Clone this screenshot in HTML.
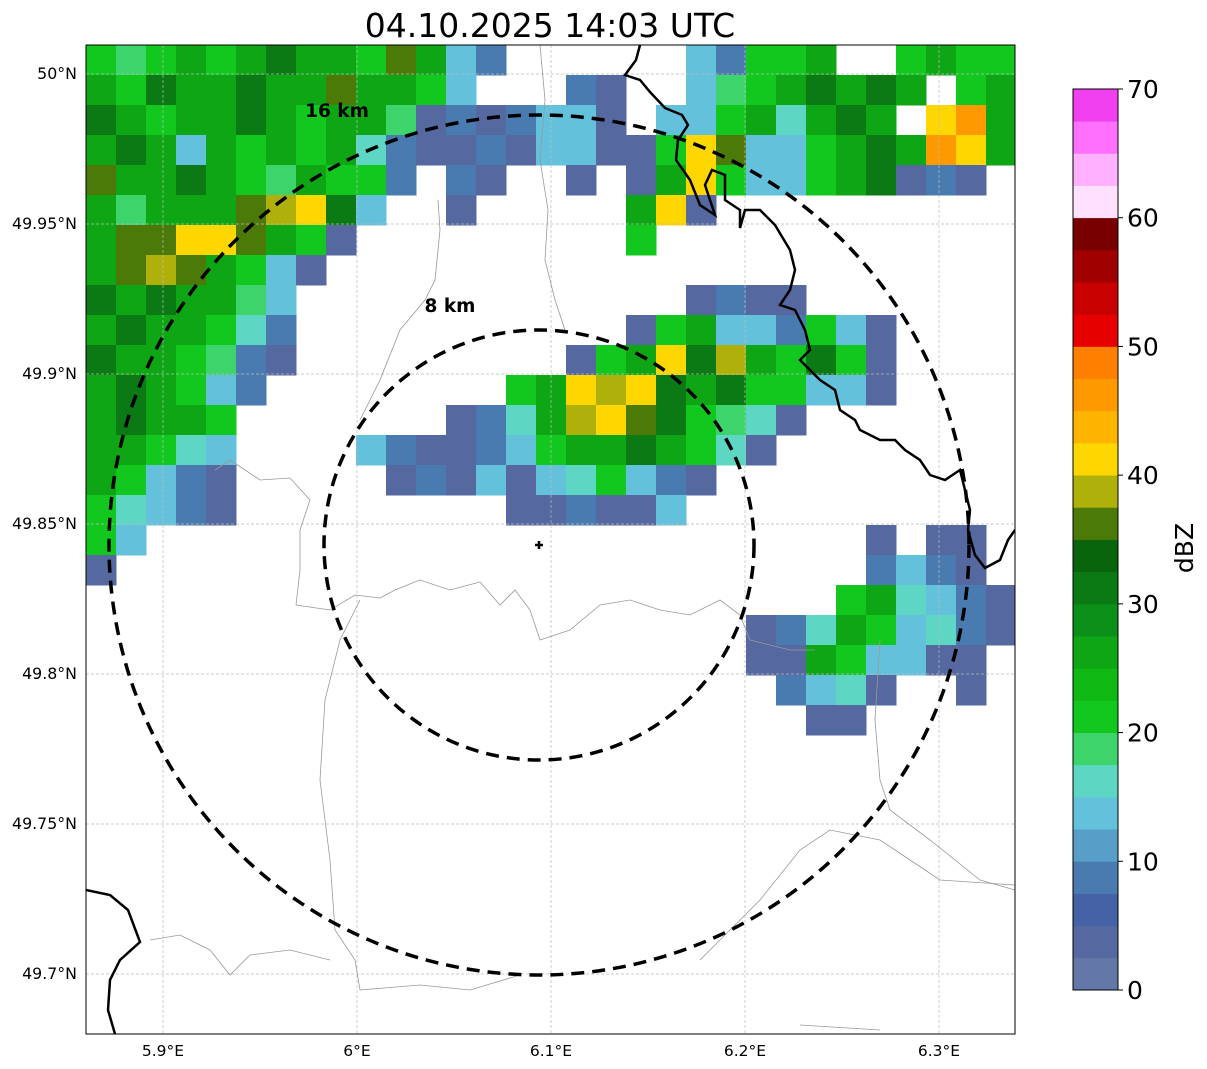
<!DOCTYPE html>
<html><head><meta charset="utf-8"><style>
body{margin:0;background:#fff;font-family:"DejaVu Sans","Liberation Sans",sans-serif}
svg{display:block;font-family:"DejaVu Sans","Liberation Sans",sans-serif}
</style></head><body>
<svg id="c" width="1207" height="1069" xmlns="http://www.w3.org/2000/svg"></svg>
<script>
const lonTicks=[5.9,6.0,6.1,6.2,6.3];
const lonLabels=["5.9°E","6°E","6.1°E","6.2°E","6.3°E"];
const latTicks=[50.0,49.95,49.9,49.85,49.8,49.75,49.7];
const latLabels=["50°N","49.95°N","49.9°N","49.85°N","49.8°N","49.75°N","49.7°N"];
const cbTicks=[0,10,20,30,40,50,60,70];
const cbColors=["#6478a8","#5568a0","#4562a6","#4a7bb0","#579fc8","#63c1dc","#5ed6c4","#3ed46c","#12c81e","#10b814","#0ea614","#0c8f18","#0b7914","#09650c","#4c7a08","#b0b00a","#ffd700","#ffb400","#ff9900","#ff7f00","#e60000","#c80000","#a00000","#780000","#ffe0ff","#ffb0ff","#ff70ff","#f040f0"];
const classCodes="bBctmgGdoyYO";
const classValues=[4,9,13,16,19,22,27,32,36,39,41,46];
const gridRows=[
"gmgGgGdGGgoGcB......cBggG..gGgg",
"GgdGGdGGoGGgc...Bb..cmgGdGdG.gG",
"dGgGGdGgGGmbBbBccb.ccgGtGdG.YOG",
"GdGcGgGgGtBbbBbccbbgYoccgGdGOYG",
"oGGdGgmGggB.Bb..b.bGYgccgGdbBb.",
"GmGGGoyYdc..b.....GYb..........",
"GooYYoGgb.........g............",
"GoyoGgcb.......................",
"dGdGGmc.............bBbb.......",
"GdGGgtB...........bgGccBgcb....",
"dGGgmBb.........bgGYdyGgdgb....",
"GdGgcB........gGYyYdGdggccb....",
"GdGGg.......bBtGyYodgmtb.......",
"GGgtc....cBbbBcgGGdGgtb........",
"GgcBb.....bBbcbctgcBb..........",
"gtcBb.........bbBbbc...........",
"gc........................b.bb.",
"b.........................BcBb.",
".........................gGtcBb",
"......................bBtGgctBb",
"......................bbGgccbb.",
".......................Bctb..b.",
"........................bb....."
];
const ns="http://www.w3.org/2000/svg";
const svg=document.getElementById('c');
function xOf(lon){return 163+(lon-5.9)*1940;}
function yOf(lat){return 74+(50-lat)*3000;}
function cbY(v){return 990-v*(901/70);}
function colorOf(v){return cbColors[Math.min(27,Math.floor(v/2.5))];}
function mk(t,a,p){const e=document.createElementNS(ns,t);for(const k in a)e.setAttribute(k,a[k]);(p||svg).appendChild(e);return e;}
const X0=86,Y0=45,X1=1015,Y1=1034,CELL=30;
const clip=mk('clipPath',{id:'mc'});mk('rect',{x:X0,y:Y0,width:X1-X0,height:Y1-Y0},clip);
const map=mk('g',{'clip-path':'url(#mc)'});


gridRows.forEach((row,j)=>{for(let i=0;i<row.length;i++){const k=classCodes.indexOf(row[i]);if(k<0)continue;
 const r=mk('rect',{x:X0+i*CELL,y:Y0+j*CELL,width:CELL+0.5,height:CELL+0.5,fill:colorOf(classValues[k])},map);
 
 }});
lonTicks.forEach(l=>{const e=mk('line',{x1:xOf(l),x2:xOf(l),y1:Y0,y2:Y1,stroke:'#bbb','stroke-width':0.7,'stroke-dasharray':'3,2'},map);});
latTicks.forEach(l=>{const e=mk('line',{x1:X0,x2:X1,y1:yOf(l),y2:yOf(l),stroke:'#bbb','stroke-width':0.7,'stroke-dasharray':'3,2'},map);});
const thin=["215,470 230,460 260,480 290,478 310,500 300,530 300,570 296,605 330,610 355,595 380,598 395,590 420,580 450,590 480,582 500,605 515,590 530,610 540,640 570,630 600,605 630,600 660,610 690,615 720,600 740,615 750,640 790,650 815,650",
"540,45 545,100 540,160 548,210 545,260 555,300 565,330",
"438,200 440,230 435,280 425,300 400,330 380,380 360,420",
"360,600 340,640 325,700 320,780 330,860 335,930 355,960 360,990 420,985 470,990 520,975",
"150,940 180,935 210,950 230,975 250,955 290,950 330,960",
"700,960 740,920 760,900 800,850 830,830 880,840 910,860 940,880 1015,885",
"800,1025 880,1030",
"880,640 875,720 880,780 890,810 930,840 980,880 1015,890"];
thin.forEach(p=>{const e=mk('polyline',{points:p,fill:'none',stroke:'#999','stroke-width':0.8},map);});
const thick=["640,45 636,60 625,75 640,80 650,92 665,108 682,115 688,125 678,140 676,160 690,180 700,205 715,215 705,185 712,170 725,175 725,200 740,210 740,228 745,210 760,210 775,225 790,250 795,270 790,290 780,305 795,310 805,330 810,350 800,360 820,380 835,390 840,410 855,420 860,430 880,440 895,440 905,450 920,460 930,475 945,480 960,470 965,490 970,510 968,530 975,555 985,568 1000,560 1008,540 1015,530",
"86,890 110,895 128,910 140,942 120,960 110,980 108,1010 115,1034"];
thick.forEach(p=>{const e=mk('polyline',{points:p,fill:'none',stroke:'#000','stroke-width':2.5},map);});
const cx=539,cy=545;
[430,215].forEach(r=>{const e=mk('circle',{cx:cx,cy:cy,r:r,fill:'none',stroke:'#000','stroke-width':3.5,'stroke-dasharray':'13,8'},map);});
let t=mk('text',{x:337,y:117,'font-size':18.5,'font-weight':'bold','text-anchor':'middle'},map);t.textContent='16 km';
t=mk('text',{x:450,y:312,'font-size':18.5,'font-weight':'bold','text-anchor':'middle'},map);t.textContent='8 km';
t=mk('path',{d:`M${cx-4} ${cy}H${cx+4}M${cx} ${cy-4}V${cy+4}`,stroke:'#000','stroke-width':2.5},map);
let fr=mk('rect',{x:X0,y:Y0,width:X1-X0,height:Y1-Y0,fill:'none',stroke:'#000','stroke-width':1});
lonTicks.forEach((l,i)=>{const e=mk('text',{x:xOf(l),y:1056,'font-size':15.5,'text-anchor':'middle'});e.textContent=lonLabels[i];});
latTicks.forEach((l,i)=>{const e=mk('text',{x:77,y:yOf(l)+5,'font-size':15.8,'text-anchor':'end'});e.textContent=latLabels[i];});
t=mk('text',{x:550,y:37,'font-size':33,'text-anchor':'middle'});t.textContent='04.10.2025 14:03 UTC';
const cb=mk('g',{});
cbColors.forEach((c,i)=>{const e=mk('rect',{x:1073,y:cbY((i+1)*2.5),width:45,height:cbY(0)-cbY(2.5)+0.4,fill:c},cb);});
mk('rect',{x:1073,y:cbY(70),width:45,height:cbY(0)-cbY(70),fill:'none',stroke:'#000','stroke-width':1},cb);
cbTicks.forEach(v=>{mk('line',{x1:1118,x2:1123,y1:cbY(v),y2:cbY(v),stroke:'#000'},cb);const e=mk('text',{x:1127,y:cbY(v)+9,'font-size':25},cb);e.textContent=v;});
t=mk('text',{x:1193,y:548,'font-size':25,'text-anchor':'middle',transform:'rotate(-90 1193 548)'});t.textContent='dBZ';
</script>
</body></html>
